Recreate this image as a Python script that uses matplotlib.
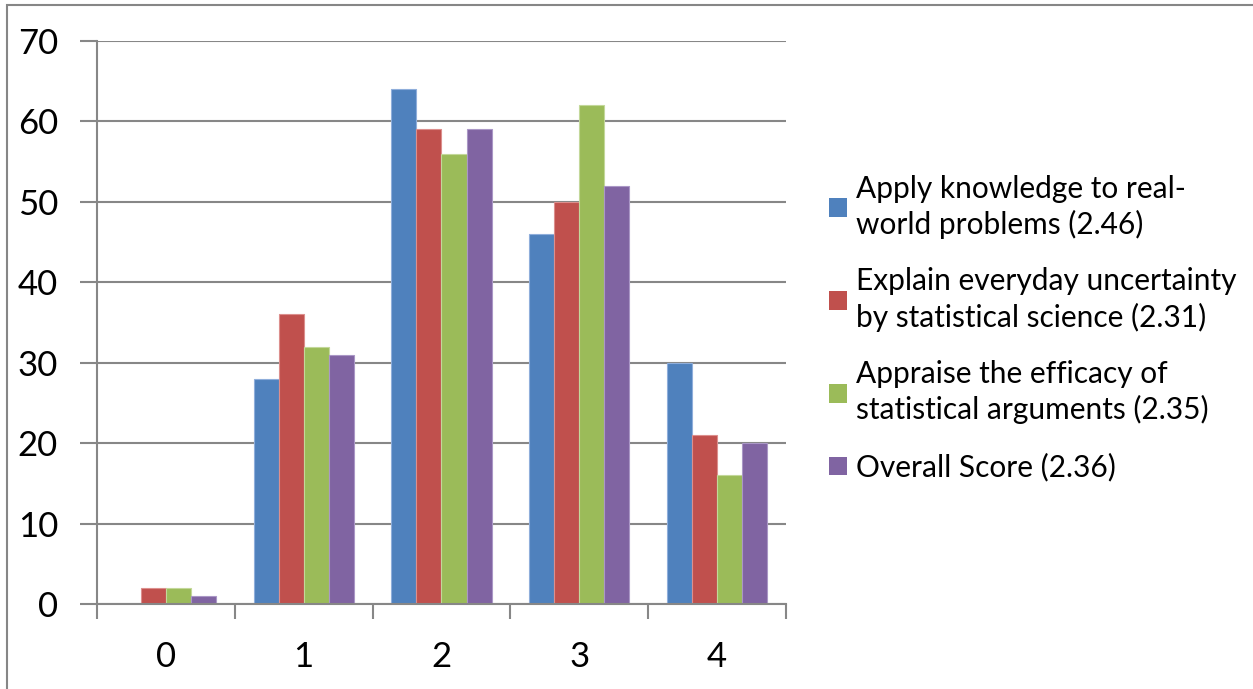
import numpy as np
import matplotlib.pyplot as plt
from matplotlib.patches import Rectangle

# Score distribution per competency (number of students at each score level)
scores = [0, 1, 2, 3, 4]
apply_knowledge = [0, 28, 64, 46, 30]
explain_uncertainty = [2, 36, 59, 50, 21]
appraise_efficacy = [2, 32, 56, 62, 16]
overall_score = [1, 31, 59, 52, 20]

series_labels = [
    'Apply knowledge to real-\nworld problems (2.46)',
    'Explain everyday uncertainty\nby statistical science (2.31)',
    'Appraise the efficacy of\nstatistical arguments (2.35)',
    'Overall Score (2.36)',
]
series_values = [apply_knowledge, explain_uncertainty, appraise_efficacy, overall_score]
colors = ['#4F81BD', '#C0504D', '#9BBB59', '#8064A2']
edge_colors = ['#8FAEDB', '#DC8F8D', '#C3D89A', '#AA97C6']

plt.rcParams['font.family'] = ['Lato', 'DejaVu Sans']

fig = plt.figure(figsize=(12.53, 6.89), dpi=100)
ax = fig.add_axes([0.0774, 0.1234, 0.5499, 0.8171])

# Excel-style clustered columns: gap width of 150%
width = 1 / 5.5
x = np.arange(len(scores))
for i, (vals, lab) in enumerate(zip(series_values, series_labels)):
    offs = (i - 1.5) * width
    ax.bar(x + offs, vals, width, label=lab, color=colors[i],
           edgecolor=edge_colors[i], linewidth=0.8, zorder=3)

ax.set_xlim(-0.5, len(scores) - 0.5)
ax.set_ylim(0, 70)
ax.set_yticks(range(0, 71, 10))
ax.set_xticks(x)
ax.set_xticklabels([str(s) for s in scores])
ax.set_xticks(np.arange(-0.5, len(scores)), minor=True)

grid_col = '#878787'
ax.yaxis.grid(True, color=grid_col, linewidth=1.5, zorder=0)
for side in ['top', 'right']:
    ax.spines[side].set_visible(False)
for side in ['left', 'bottom']:
    ax.spines[side].set_color(grid_col)
    ax.spines[side].set_linewidth(1.5)
    ax.spines[side].set_zorder(4)

ax.tick_params(axis='y', length=12, width=1.5, color=grid_col,
               labelsize=25, pad=16)
ax.tick_params(axis='x', which='major', length=0, labelsize=25, pad=27)
ax.tick_params(axis='x', which='minor', length=11, width=1.5, color=grid_col)

leg = ax.legend(loc='center left', bbox_to_anchor=(1.023, 0.49),
                frameon=False, fontsize=21.5, handlelength=0.6,
                handleheight=0.6, handletextpad=0.3, labelspacing=0.95)
for t in leg.get_texts():
    t.set_linespacing(1.3)
for h in leg.legend_handles:
    h.set_edgecolor('none')

# Chart area border (left and top edges)
fig.patches.append(Rectangle((7 / 1253, -0.1), 1.2, 1 - 5 / 689 + 0.1,
                             transform=fig.transFigure, fill=False,
                             edgecolor='#868686', linewidth=1.5))

fig.savefig('out.png', dpi=100)
